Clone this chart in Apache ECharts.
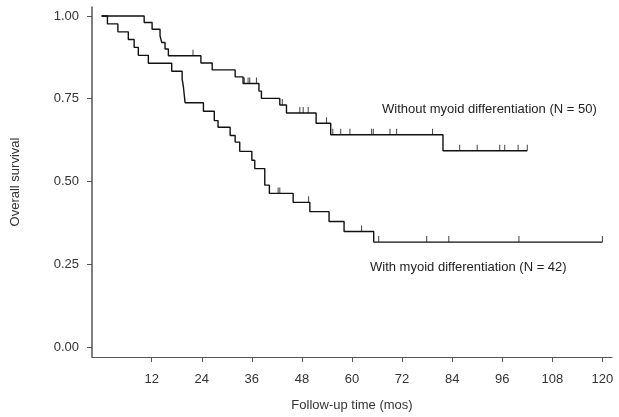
<!DOCTYPE html>
<html><head><meta charset="utf-8">
<script src="https://cdn.jsdelivr.net/npm/echarts@6/dist/echarts.min.js"></script>
<style>html,body{margin:0;padding:0;background:#fff}#c{width:619px;height:417px}</style>
</head><body><div id="c"></div>
<script>
// Kaplan-Meier step data (time in months, survival after the event)
const withoutTimes = [0, 10.2, 12.1, 14.0, 14.4, 15.2, 16.0, 23.8, 26.5, 32.0, 33.9, 37.7, 38.3, 42.7, 44.3, 51.4, 54.9, 81.8, 102.0];
const withoutSurv  = [1.000, 0.980, 0.960, 0.940, 0.920, 0.900, 0.880, 0.858, 0.837, 0.816, 0.796, 0.773, 0.751, 0.731, 0.707, 0.676, 0.641, 0.593, 0.593];
const withoutCensor = [21.9, 34.2, 35.1, 35.5, 37.1, 43.3, 47.5, 48.3, 49.5, 53.9, 55.4, 57.3, 59.5, 64.7, 65.1, 69.1, 70.7, 79.3, 85.8, 90.0, 95.4, 96.6, 99.8, 102.0];

const withTimes = [0, 1.4, 3.9, 6.4, 7.8, 8.8, 11.2, 16.8, 19.3, 19.6, 19.8, 20.0, 24.4, 27.0, 27.9, 30.8, 32.0, 33.1, 36.0, 36.7, 39.1, 40.2, 45.9, 49.9, 54.5, 58.1, 65.2, 120.0];
const withSurv  = [1.000, 0.976, 0.952, 0.929, 0.905, 0.881, 0.857, 0.833, 0.810, 0.786, 0.762, 0.738, 0.712, 0.684, 0.664, 0.639, 0.619, 0.591, 0.564, 0.539, 0.489, 0.464, 0.437, 0.409, 0.379, 0.349, 0.317, 0.317];
const withCensor = [42.3, 42.7, 49.6, 62.3, 66.4, 77.9, 83.2, 100.0, 120.0];

const xTicks = [12, 24, 36, 48, 60, 72, 84, 96, 108, 120];
const yTicks = [0, 0.25, 0.5, 0.75, 1.0];

const FONT = 'Liberation Sans, Arial, Helvetica, sans-serif';

function zip(t, s) { return t.map((v, i) => [v, s[i]]); }
function survAt(t, times, surv) {
  let v = surv[0];
  for (let i = 0; i < times.length; i++) { if (times[i] <= t) v = surv[i]; }
  return v;
}
function censorPts(c, times, surv) { return c.map(t => [t, survAt(t, times, surv)]); }

const chart = echarts.init(document.getElementById('c'), null, {renderer: 'canvas'});
const lineCol = '#111';
chart.setOption({
  animation: false,
  backgroundColor: '#fff',
  grid: {left: 92, right: 7, top: 7, bottom: 57},
  xAxis: {
    type: 'value', min: -2.3, max: 122.3,
    axisLine: {show: true, onZero: false, lineStyle: {color: '#555', width: 1.2}},
    axisTick: {show: true, length: 5, customValues: xTicks, lineStyle: {color: '#555'}},
    axisLabel: {customValues: xTicks, margin: 16, fontSize: 13, color: '#333', fontFamily: FONT},
    splitLine: {show: false},
    name: 'Follow-up time (mos)', nameLocation: 'middle', nameGap: 42,
    nameTextStyle: {fontSize: 13, color: '#333', fontFamily: FONT}
  },
  yAxis: {
    type: 'value', min: -0.03, max: 1.027,
    axisLine: {show: true, onZero: false, lineStyle: {color: '#555', width: 1.5}},
    axisTick: {show: true, length: 5, customValues: yTicks, lineStyle: {color: '#555'}},
    axisLabel: {customValues: yTicks, margin: 13, fontSize: 13, color: '#333', fontFamily: FONT,
      formatter: v => v.toFixed(2)},
    splitLine: {show: false},
    name: 'Overall survival', nameLocation: 'middle', nameGap: 70,
    nameTextStyle: {fontSize: 13, color: '#333', fontFamily: FONT}
  },
  series: [
    {type: 'line', step: 'end', data: zip(withoutTimes, withoutSurv), showSymbol: false,
      lineStyle: {color: lineCol, width: 1.4}},
    {type: 'line', step: 'end', data: zip(withTimes, withSurv), showSymbol: false,
      lineStyle: {color: lineCol, width: 1.4}},
    {type: 'scatter', data: censorPts(withoutCensor, withoutTimes, withoutSurv), symbol: 'rect',
      symbolSize: [1, 6], symbolOffset: [0, -3], itemStyle: {color: lineCol}},
    {type: 'scatter', data: censorPts(withCensor, withTimes, withSurv), symbol: 'rect',
      symbolSize: [1, 6], symbolOffset: [0, -3], itemStyle: {color: lineCol}}
  ],
  graphic: [
    {type: 'text', left: 382, top: 103, style: {text: 'Without myoid differentiation (N = 50)', fontSize: 13, fill: '#222', fontFamily: FONT}},
    {type: 'text', left: 370, top: 261, style: {text: 'With myoid differentiation (N = 42)', fontSize: 13, fill: '#222', fontFamily: FONT}}
  ]
});
</script>
</body></html>
